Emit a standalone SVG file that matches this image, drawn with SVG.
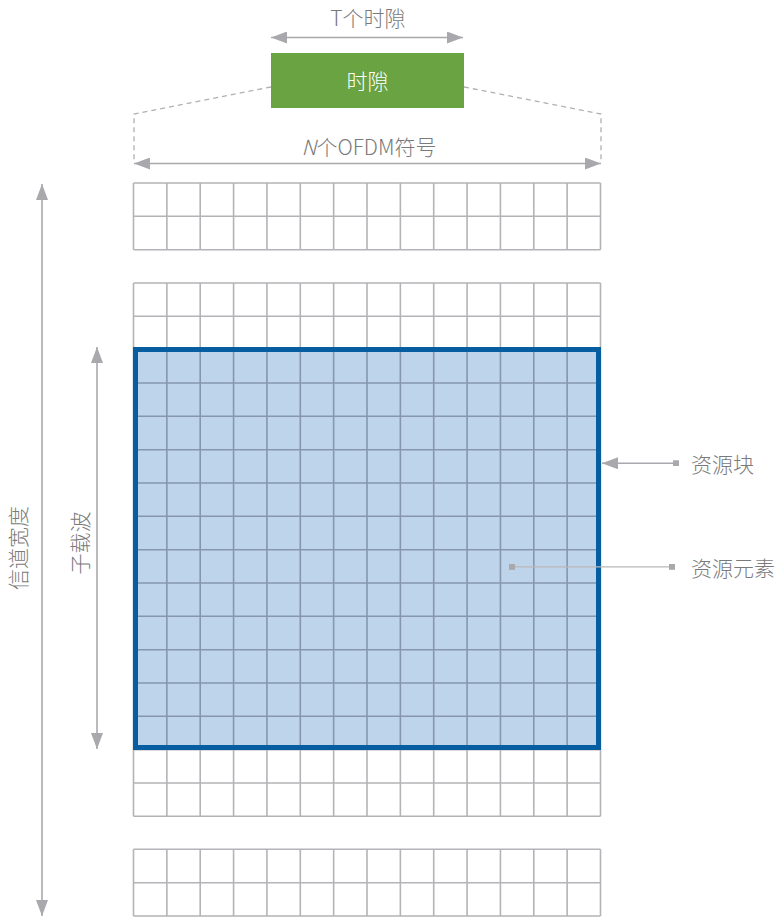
<svg xmlns="http://www.w3.org/2000/svg" width="776" height="918" viewBox="0 0 776 918">
<style>
.lbl{font-family:"Noto Sans CJK SC","Noto Sans",sans-serif;font-size:21px;font-weight:300;fill:#7a7a7a}
.dim{stroke:#a9a9ad;stroke-width:1.6;fill:none}
.grid{stroke:#b4b4b8;stroke-width:1.6;fill:none}
.igrid{stroke:#8696ad;stroke-width:1.6;fill:none}
.dash{stroke:#b0b0b0;stroke-width:1.3;fill:none;stroke-dasharray:5 4}
</style>
<defs>
<marker id="arr" viewBox="0 0 16 12" refX="16" refY="6" markerWidth="16" markerHeight="12" markerUnits="userSpaceOnUse" orient="auto-start-reverse">
<path d="M0,0 L16,6 L0,12 z" fill="#a9a9ad"/>
</marker>
<marker id="sq" viewBox="0 0 6 6" refX="3" refY="3" markerWidth="6" markerHeight="6" markerUnits="userSpaceOnUse">
<rect width="6" height="6" fill="#a9a9ad"/>
</marker>
</defs>
<rect width="776" height="918" fill="#fff"/>

<g id="grid">
<path class="grid" d="M133.5,183V249.7M166.86,183V249.7M200.21,183V249.7M233.57,183V249.7M266.93,183V249.7M300.29,183V249.7M333.64,183V249.7M367,183V249.7M400.36,183V249.7M433.71,183V249.7M467.07,183V249.7M500.43,183V249.7M533.79,183V249.7M567.14,183V249.7M600.5,183V249.7M133.5,183H600.5M133.5,216.3H600.5M133.5,249.7H600.5"/>
<path class="grid" d="M133.5,283V816.3M166.86,283V816.3M200.21,283V816.3M233.57,283V816.3M266.93,283V816.3M300.29,283V816.3M333.64,283V816.3M367,283V816.3M400.36,283V816.3M433.71,283V816.3M467.07,283V816.3M500.43,283V816.3M533.79,283V816.3M567.14,283V816.3M600.5,283V816.3M133.5,283H600.5M133.5,316.3H600.5M133.5,349.7H600.5M133.5,749.7H600.5M133.5,783H600.5M133.5,816.3H600.5"/>
<path class="grid" d="M133.5,849.3V916M166.86,849.3V916M200.21,849.3V916M233.57,849.3V916M266.93,849.3V916M300.29,849.3V916M333.64,849.3V916M367,849.3V916M400.36,849.3V916M433.71,849.3V916M467.07,849.3V916M500.43,849.3V916M533.79,849.3V916M567.14,849.3V916M600.5,849.3V916M133.5,849.3H600.5M133.5,882.7H600.5M133.5,916H600.5"/>
</g>

<g id="resource-block">
<rect x="133.5" y="349.7" width="467" height="400" fill="#bed4eb"/>
<path class="igrid" d="M166.86,349.7V749.7M200.21,349.7V749.7M233.57,349.7V749.7M266.93,349.7V749.7M300.29,349.7V749.7M333.64,349.7V749.7M367,349.7V749.7M400.36,349.7V749.7M433.71,349.7V749.7M467.07,349.7V749.7M500.43,349.7V749.7M533.79,349.7V749.7M567.14,349.7V749.7M133.5,383H600.5M133.5,416.3H600.5M133.5,449.7H600.5M133.5,483H600.5M133.5,516.3H600.5M133.5,549.7H600.5M133.5,583H600.5M133.5,616.3H600.5M133.5,649.7H600.5M133.5,683H600.5M133.5,716.3H600.5"/>
<rect x="135.5" y="349.5" width="463" height="398" fill="none" stroke="#065d9f" stroke-width="5"/>
</g>

<g id="slot">
<rect x="271" y="53" width="193" height="55" fill="#6aa342"/>
<text class="lbl" x="367.5" y="89" text-anchor="middle" style="fill:#fff">时隙</text>
</g>

<g id="connectors">
<line class="dim" x1="271" y1="37.5" x2="463" y2="37.5" marker-start="url(#arr)" marker-end="url(#arr)"/>
<path class="dash" d="M271,87 L134,114 V163"/>
<path class="dash" d="M464,87 L601,114 V163"/>
<line class="dim" x1="134" y1="163.5" x2="601" y2="163.5" marker-start="url(#arr)" marker-end="url(#arr)"/>
<line class="dim" x1="42" y1="184" x2="42" y2="916" marker-start="url(#arr)" marker-end="url(#arr)"/>
<line class="dim" x1="97" y1="347" x2="97" y2="749" marker-start="url(#arr)" marker-end="url(#arr)"/>
<line class="dim" x1="676" y1="463.3" x2="602" y2="463.3" marker-start="url(#sq)" marker-end="url(#arr)"/>
<line x1="512" y1="566.8" x2="672" y2="566.8" stroke="#b8b8b8" stroke-width="1.3" marker-start="url(#sq)" marker-end="url(#sq)"/>
</g>

<g id="labels">
<text class="lbl" x="368" y="26" text-anchor="middle">T个时隙</text>
<text class="lbl" x="369" y="155" text-anchor="middle"><tspan font-style="italic">N</tspan>个OFDM符号</text>
<text class="lbl" x="691" y="472">资源块</text>
<text class="lbl" x="691" y="576">资源元素</text>
<text class="lbl" transform="translate(26,548) rotate(-90)" text-anchor="middle">信道宽度</text>
<text class="lbl" transform="translate(88,543) rotate(-90)" text-anchor="middle">子载波</text>
</g>
</svg>
